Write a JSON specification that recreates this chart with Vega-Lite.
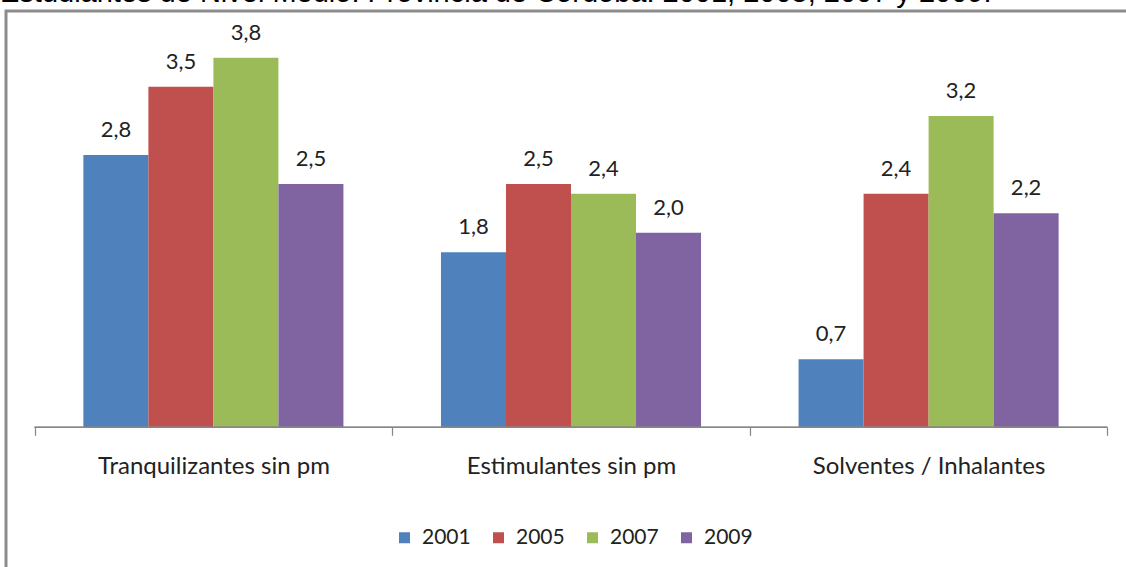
{
  "$schema": "https://vega.github.io/schema/vega-lite/v6.json",
  "usermeta": {"embedOptions": {"actions": false}},
  "width": 1130,
  "height": 600,
  "autosize": {"type": "none"},
  "padding": {"left": 6, "top": 11, "right": -10, "bottom": -44},
  "title": {
    "text": "Estudiantes de Nivel Medio. Provincia de Córdoba: 2001, 2005, 2007  y 2009.",
    "anchor": "start",
    "dx": -6,
    "offset": -20,
    "font": "Liberation Sans",
    "fontSize": 29,
    "fontWeight": "normal",
    "color": "#000000",
    "baseline": "alphabetic"
  },
  "data": {
    "values": [
      {"categoria": "Tranquilizantes sin pm", "anio": "2001", "valor": 2.8},
      {"categoria": "Tranquilizantes sin pm", "anio": "2005", "valor": 3.5},
      {"categoria": "Tranquilizantes sin pm", "anio": "2007", "valor": 3.8},
      {"categoria": "Tranquilizantes sin pm", "anio": "2009", "valor": 2.5},
      {"categoria": "Estimulantes sin pm", "anio": "2001", "valor": 1.8},
      {"categoria": "Estimulantes sin pm", "anio": "2005", "valor": 2.5},
      {"categoria": "Estimulantes sin pm", "anio": "2007", "valor": 2.4},
      {"categoria": "Estimulantes sin pm", "anio": "2009", "valor": 2.0},
      {"categoria": "Solventes / Inhalantes", "anio": "2001", "valor": 0.7},
      {"categoria": "Solventes / Inhalantes", "anio": "2005", "valor": 2.4},
      {"categoria": "Solventes / Inhalantes", "anio": "2007", "valor": 3.2},
      {"categoria": "Solventes / Inhalantes", "anio": "2009", "valor": 2.2}
    ]
  },
  "layer": [
    {
      "mark": {"type": "bar"},
      "encoding": {
        "x": {
          "field": "categoria",
          "type": "nominal",
          "sort": ["Tranquilizantes sin pm", "Estimulantes sin pm", "Solventes / Inhalantes"],
          "scale": {"paddingInner": 0, "paddingOuter": 0.08},
          "axis": {
            "title": null,
            "offset": -183.7,
            "domain": false,
            "grid": false,
            "tickBand": "extent",
            "ticks": true,
            "tickSize": 8,
            "tickColor": "#868686",
            "tickWidth": 1.2,
            "labelAngle": 0,
            "labelFont": "Lato",
            "labelFontSize": 24,
            "labelColor": "#222222",
            "labelPadding": 19,
            "labelLimit": 0
          }
        },
        "xOffset": {"field": "anio", "type": "nominal", "scale": {"paddingInner": 0, "paddingOuter": 0.75}},
        "y": {"field": "valor", "type": "quantitative", "scale": {"domain": [-1.889, 4.28], "nice": false}, "axis": null},
        "y2": {"datum": 0},
        "color": {
          "field": "anio",
          "type": "nominal",
          "scale": {"domain": ["2001", "2005", "2007", "2009"], "range": ["#4F81BD", "#C0504D", "#9BBB59", "#8064A2"]},
          "legend": {
            "orient": "none",
            "legendX": 388,
            "legendY": 516,
            "direction": "horizontal",
            "title": null,
            "symbolType": "square",
            "symbolSize": 121,
            "symbolStrokeWidth": 0,
            "labelFont": "Lato",
            "labelFontSize": 21,
            "labelColor": "#222222",
            "labelOffset": 7,
            "columnPadding": 17
          }
        }
      }
    },
    {
      "mark": {"type": "bar", "fill": null, "stroke": "#868686", "strokeWidth": 1.2},
      "encoding": {
        "x": {"field": "categoria", "type": "nominal", "sort": ["Tranquilizantes sin pm", "Estimulantes sin pm", "Solventes / Inhalantes"]},
        "y": {"datum": 0, "type": "quantitative"},
        "y2": {"datum": 0}
      }
    },
    {
      "mark": {"type": "text", "font": "Lato", "fontSize": 22, "color": "#222222", "align": "center", "baseline": "alphabetic", "dy": -18},
      "encoding": {
        "x": {"field": "categoria", "type": "nominal", "sort": ["Tranquilizantes sin pm", "Estimulantes sin pm", "Solventes / Inhalantes"]},
        "xOffset": {"field": "anio", "type": "nominal"},
        "y": {"field": "valor", "type": "quantitative"},
        "text": {"field": "valor", "type": "quantitative", "format": ".1f"}
      }
    }
  ],
  "config": {
    "view": {"stroke": "#8c8c8c", "strokeWidth": 3},
    "locale": {"number": {"decimal": ",", "thousands": ".", "grouping": [3], "currency": ["$", ""]}}
  }
}
